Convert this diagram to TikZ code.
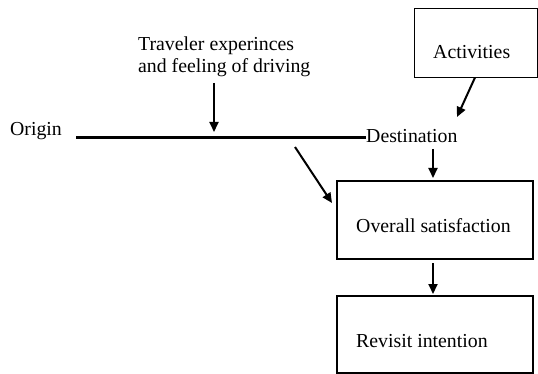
\documentclass[tikz,border=0pt]{standalone}
\usepackage{fontspec}
\setmainfont{Liberation Serif}
\usetikzlibrary{arrows.meta}
\begin{document}
\begin{tikzpicture}[x=1pt,y=-1pt,
  lbl/.style={inner sep=0pt,anchor=base west,font=\fontsize{19.8}{22}\selectfont},
  thinbox/.style={draw,line width=0.8pt,inner sep=0pt},
  thickbox/.style={draw,line width=2pt,inner sep=0pt},
  arr/.style={line width=2pt,-{Triangle[length=10pt,width=9pt]}}]
\useasboundingbox (0,0) rectangle (538,374);
% boxes
\node[thinbox,minimum width=123pt,minimum height=69pt] (act) at (475.5,42.5) {};
\node[thickbox,minimum width=196pt,minimum height=78pt] (sat) at (435,220) {};
\node[thickbox,minimum width=196pt,minimum height=77pt] (rev) at (435,334.5) {};
% labels
\node[lbl] (actl) at (433,59) {Activities};
\node[lbl] (satl) at (356,233) {Overall satisfaction};
\node[lbl] (revl) at (356,347) {Revisit intention};
\node[lbl,align=left] (trav) at (138,72.5) {Traveler experinces\\and feeling of driving};
\node[lbl] (orig) at (10,136) {Origin};
\node[lbl] (dest) at (366,143) {Destination};
% route line
\coordinate (ls) at (76,137.5);
\draw[line width=2.3pt] (ls) -- (dest.west |- ls);
% arrows
\coordinate (t1) at (214,83);
\coordinate (t2) at (214,132);
\draw[arr] (t1) -- (t2);
\coordinate (a1) at (475,77.5);
\coordinate (a2) at (457,117);
\draw[arr] (a1) -- (a2);
\coordinate (d1) at (433,149);
\coordinate (d2) at (433,178);
\draw[arr] (d1) -- (d2);
\coordinate (g1) at (295,147);
\coordinate (g2) at (332,203);
\draw[arr] (g1) -- (g2);
\coordinate (s1) at (433,263);
\coordinate (s2) at (433,294);
\draw[arr] (s1) -- (s2);
\end{tikzpicture}
\end{document}
